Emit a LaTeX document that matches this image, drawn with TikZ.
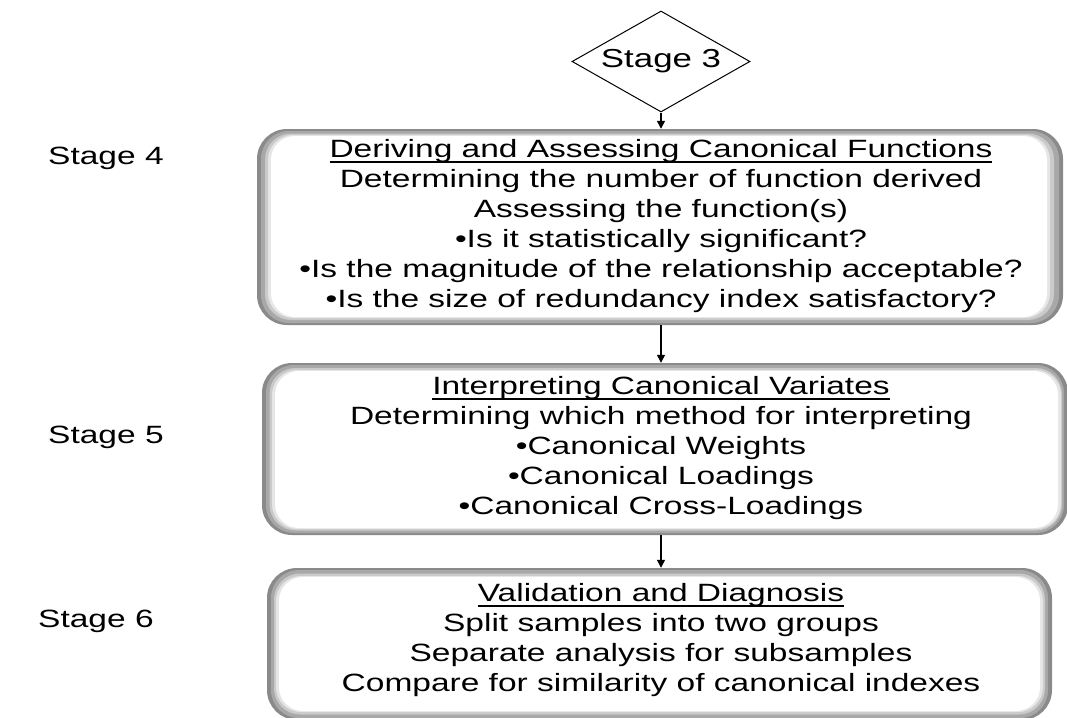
\documentclass[tikz,border=0pt]{standalone}
\usepackage{fontspec}
\setmainfont{Liberation Sans}[FakeStretch=1.34]
\usetikzlibrary{shapes.geometric,arrows.meta}

\definecolor{bevelA}{HTML}{8A8A8A}
\definecolor{bevelB}{HTML}{A8A8A8}
\definecolor{bevelC}{HTML}{CACACA}
\definecolor{bevelD}{HTML}{E6E6E6}

\tikzset{
  txt/.style={font=\fontsize{25}{30}\selectfont, inner sep=0pt, align=center},
  lbl/.style={font=\fontsize{25}{30}\selectfont, inner sep=0pt, anchor=west},
  frame/.style={rounded corners=30pt, inner sep=0pt, fill=bevelA},
  arr/.style={line width=1.3pt, -{Triangle[length=8pt,width=8pt]}},
}

% thicker underline for the frame headings
\newcommand{\headline}[1]{\setbox0\hbox{#1}\rlap{\hbox{#1}}\rule[-5.5pt]{\wd0}{1.8pt}}

% bevelled frame: outer corners (x1,y1) (x2,y2), inner white corners (u1,v1) (u2,v2)
\newcommand{\bevelframe}[9]{%
  \path[frame] (#2,#3) rectangle (#4,#5) node[pos=.5, inner sep=0pt, minimum width={#4-#2}, minimum height={#5-#3}] (#1) {};
  \fill[bevelB, rounded corners=28pt] ({#2+4},{#3+2}) rectangle ({#4-4},{#5-2});
  \fill[bevelC, rounded corners=26pt] ({(#2+#6)/2+1},{(#3+#7)/2+1}) rectangle ({(#4+#8)/2-1},{(#5+#9)/2-1});
  \fill[bevelD, rounded corners=25pt] ({#6-3},{#7-1}) rectangle ({#8+3},{#9+1});
  \fill[white, rounded corners=24pt] (#6,#7) rectangle (#8,#9);
}

\begin{document}
\begin{tikzpicture}[x=1pt, y=-1pt]
  \useasboundingbox (0,0) rectangle (1067,717);

  % entry point
  \node[draw=black, line width=1pt, shape=diamond, aspect=1.76, minimum width=178pt, minimum height=101pt,
        inner sep=0pt, font=\fontsize{26}{30}\selectfont] (d) at (661,61.5) {Stage 3};

  % stage frames
  \bevelframe{b1}{257}{129}{1063}{325}{271}{136}{1047}{317}
  \bevelframe{b2}{262}{363}{1068}{535}{275}{371}{1058}{528}
  \bevelframe{b3}{267}{568}{1052}{720}{279}{577}{1040}{711}

  \node[txt] (t1) at (661,226) {\headline{Deriving and Assessing Canonical Functions}\\
    Determining the number of function derived\\
    Assessing the function(s)\\
    •Is it statistically significant?\\
    •Is the magnitude of the relationship acceptable?\\
    •Is the size of redundancy index satisfactory?};

  \node[txt] (t2) at (661,448) {\headline{Interpreting Canonical Variates}\\
    Determining which method for interpreting\\
    •Canonical Weights\\
    •Canonical Loadings\\
    •Canonical Cross-Loadings};

  \node[txt] (t3) at (661,640) {\headline{Validation and Diagnosis}\\
    Split samples into two groups\\
    Separate analysis for subsamples\\
    Compare for similarity of canonical indexes};

  % stage labels
  \node[lbl] (s4) at (48,158) {Stage 4};
  \node[lbl] (s5) at (48,437) {Stage 5};
  \node[lbl] (s6) at (38,621) {Stage 6};

  % connectors
  \draw[arr] (d.south) -- (d.south |- b1.north);
  \draw[arr] (b1.south -| d.south) -- (b2.north -| d.south);
  \draw[arr] (b2.south -| d.south) -- (b3.north -| d.south);
\end{tikzpicture}
\end{document}
